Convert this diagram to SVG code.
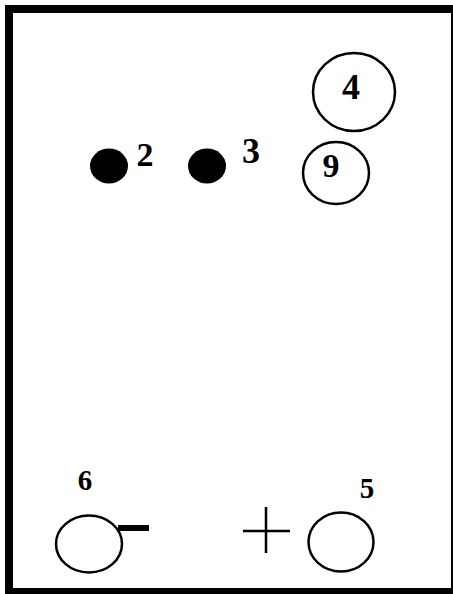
<svg xmlns="http://www.w3.org/2000/svg" width="453" height="594" viewBox="0 0 453 594">
<style>
.c{fill:none;stroke:#000;stroke-width:2.5}
.t{font-family:"Liberation Serif","Times New Roman",serif;font-weight:bold;fill:#000;text-anchor:middle}
</style>
<rect x="0" y="0" width="453" height="594" fill="#fff"/>
<rect id="frame" x="9" y="9" width="446" height="583" fill="none" stroke="#000" stroke-width="8"/>
<g id="node4"><ellipse class="c" cx="354" cy="92" rx="41" ry="39"/><text class="t" x="351" y="99" font-size="36">4</text></g>
<g id="node9"><ellipse class="c" cx="336" cy="173" rx="33" ry="31"/><text class="t" x="331" y="177" font-size="34">9</text></g>
<g id="node2"><ellipse cx="109" cy="166" rx="19" ry="17.5" fill="#000"/><text class="t" x="145" y="166" font-size="34">2</text></g>
<g id="node3"><ellipse cx="207" cy="166" rx="19" ry="17.5" fill="#000"/><text class="t" x="251" y="163" font-size="36">3</text></g>
<g id="node6"><ellipse class="c" cx="89" cy="544" rx="33" ry="28.5"/><rect x="118" y="525" width="31" height="6" fill="#000"/><text class="t" x="85" y="490" font-size="29">6</text></g>
<g id="node5"><ellipse class="c" cx="341" cy="542" rx="32.5" ry="29.5"/><text class="t" x="367" y="498" font-size="29">5</text></g>
<g id="plus"><path d="M243 531H290M266 507V553" stroke="#000" stroke-width="2.5"/></g>
</svg>
